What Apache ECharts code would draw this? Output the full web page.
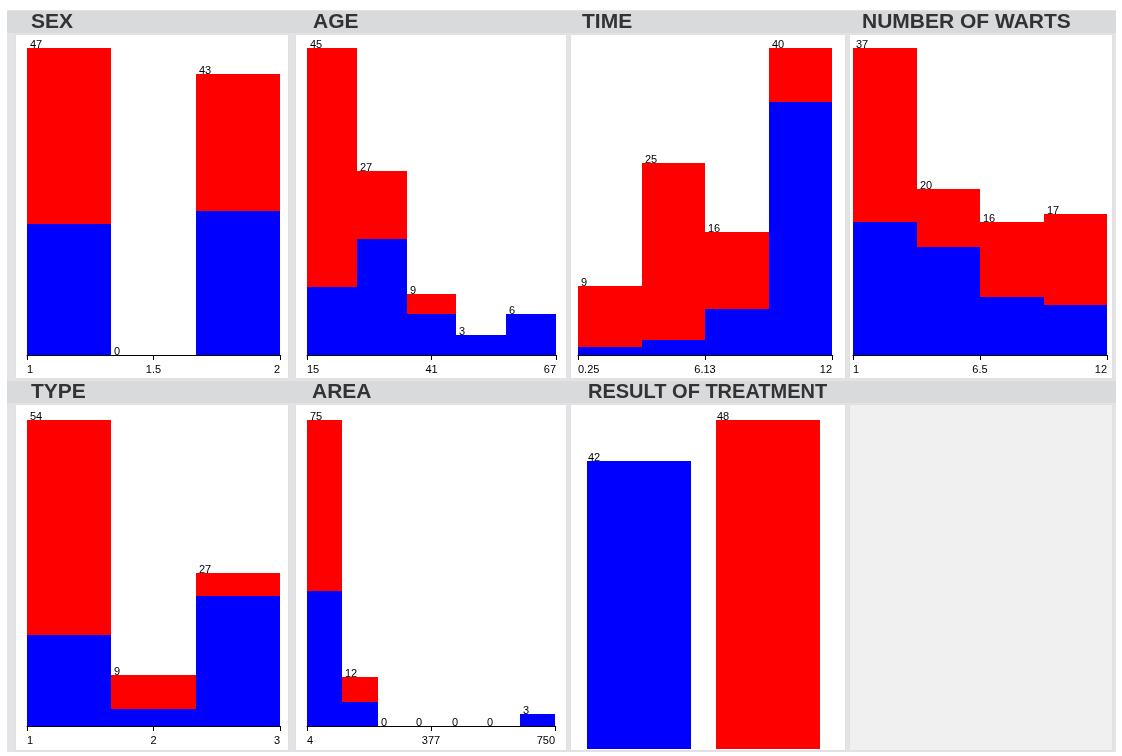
<!DOCTYPE html>
<html>
<head>
<meta charset="utf-8">
<script src="https://cdn.jsdelivr.net/npm/echarts@6/dist/echarts.min.js"></script>
<style>
  html, body { margin: 0; padding: 0; background: #ffffff; }
  #chart { width: 1122px; height: 756px; }
</style>
</head>
<body>
<div id="chart"></div>
<script>
// Attribute histograms of the warts data set; each bin is split by class
// (blue = class 0, red = class 1), with the bin total written above it.
const sexTicks = ['1', '1.5', '2'];
const sexBlue = [20, 0, 22];
const sexRed = [27, 0, 21];

const ageTicks = ['15', '41', '67'];
const ageBlue = [10, 17, 6, 3, 6];
const ageRed = [35, 10, 3, 0, 0];

const timeTicks = ['0.25', '6.13', '12'];
const timeBlue = [1, 2, 6, 33];
const timeRed = [8, 23, 10, 7];

const wartsTicks = ['1', '6.5', '12'];
const wartsBlue = [16, 13, 7, 6];
const wartsRed = [21, 7, 9, 11];

const typeTicks = ['1', '2', '3'];
const typeBlue = [16, 3, 23];
const typeRed = [38, 6, 4];

const areaTicks = ['4', '377', '750'];
const areaBlue = [33, 6, 0, 0, 0, 0, 3];
const areaRed = [42, 6, 0, 0, 0, 0, 0];

// class distribution of the target attribute
const resultCounts = [42, 48];

const FONT = '"Liberation Sans", Arial, Helvetica, sans-serif';
const BLUE = '#0000ff';
const RED = '#ff0000';

const ROW_TOP = [{ top: 48, height: 307 }, { top: 420, height: 306 }];

const histPanels = [
  { title: 'SEX', ticks: sexTicks, blue: sexBlue, red: sexRed, row: 0, left: 27, width: 253, titleX: 31 },
  { title: 'AGE', ticks: ageTicks, blue: ageBlue, red: ageRed, row: 0, left: 307, width: 249, titleX: 313 },
  { title: 'TIME', ticks: timeTicks, blue: timeBlue, red: timeRed, row: 0, left: 578, width: 254, titleX: 582 },
  { title: 'NUMBER OF WARTS', ticks: wartsTicks, blue: wartsBlue, red: wartsRed, row: 0, left: 853, width: 254, titleX: 862 },
  { title: 'TYPE', ticks: typeTicks, blue: typeBlue, red: typeRed, row: 1, left: 27, width: 253, titleX: 31 },
  { title: 'AREA', ticks: areaTicks, blue: areaBlue, red: areaRed, row: 1, left: 307, width: 248, titleX: 312 }
];

const grids = [], xAxes = [], yAxes = [], series = [], titles = [];

function countLabel(text, x, y) {
  return {
    type: 'text',
    style: {
      text: text, x: x, y: y,
      fill: '#000000',
      font: '11px ' + FONT,
      align: 'left',
      verticalAlign: 'bottom'
    }
  };
}

// pixel-snapped rectangle between two data points
function snapRect(p, q, fill) {
  const x0 = Math.round(Math.min(p[0], q[0])), x1 = Math.round(Math.max(p[0], q[0]));
  const y0 = Math.round(Math.min(p[1], q[1])), y1 = Math.round(Math.max(p[1], q[1]));
  return { type: 'rect', shape: { x: x0, y: y0, width: x1 - x0, height: y1 - y0 }, style: { fill: fill } };
}

histPanels.forEach(function (p, k) {
  const n = p.blue.length;
  const totals = p.blue.map(function (b, i) { return b + p.red[i]; });
  const maxTotal = Math.max.apply(null, totals);
  grids.push({ left: p.left, width: p.width, top: ROW_TOP[p.row].top, height: ROW_TOP[p.row].height });
  xAxes.push({
    gridIndex: k, type: 'value', min: 0, max: n, interval: n / 2, offset: 3,
    axisLine: { show: true, lineStyle: { color: '#000000', width: 1 } },
    axisTick: { show: true, length: 5, lineStyle: { color: '#000000' } },
    splitLine: { show: false },
    axisLabel: {
      show: true, margin: 6, color: '#000000', fontSize: 11, fontFamily: FONT,
      showMinLabel: true, showMaxLabel: true, hideOverlap: false,
      alignMinLabel: 'left', alignMaxLabel: 'right',
      formatter: function (v) { return p.ticks[Math.round(v / (n / 2))]; }
    }
  });
  yAxes.push({ gridIndex: k, type: 'value', min: 0, max: maxTotal, show: false, splitLine: { show: false } });
  series.push({
    type: 'custom', xAxisIndex: k, yAxisIndex: k, clip: false,
    data: p.blue.map(function (b, i) { return [i, b, p.red[i]]; }),
    renderItem: function (params, api) {
      const i = api.value(0), b = api.value(1), r = api.value(2);
      const base = api.coord([i, 0]);
      const mid = api.coord([i + 1, b]);
      const top = api.coord([i + 1, b + r]);
      const children = [];
      if (b > 0) children.push(snapRect(base, mid, BLUE));
      if (r > 0) children.push(snapRect([base[0], mid[1]], top, RED));
      children.push(countLabel(String(b + r), Math.round(base[0]) + 3, Math.round(top[1]) + 2));
      return { type: 'group', children: children };
    }
  });
  titles.push({
    text: p.title, left: p.titleX, top: p.row === 0 ? 12 : 382, padding: 0,
    textStyle: { fontSize: 21, fontWeight: 'bold', color: '#333333', fontFamily: FONT }
  });
});

// class panel: one bar per class, no axis
const rk = grids.length;
grids.push({ left: 574, width: 259, top: 420, height: 329 });
xAxes.push({ gridIndex: rk, type: 'value', min: 0, max: resultCounts.length, show: false });
yAxes.push({ gridIndex: rk, type: 'value', min: 0, max: Math.max.apply(null, resultCounts), show: false });
series.push({
  type: 'custom', xAxisIndex: rk, yAxisIndex: rk, clip: false,
  data: resultCounts.map(function (c, i) { return [i, c]; }),
  renderItem: function (params, api) {
    const i = api.value(0), c = api.value(1);
    const a = api.coord([i + 0.1, 0]);
    const b = api.coord([i + 0.9, c]);
    return {
      type: 'group',
      children: [
        snapRect(a, b, i === 0 ? BLUE : RED),
        countLabel(String(c), Math.round(a[0]) + 1, Math.round(b[1]) + 2)
      ]
    };
  }
});
titles.push({
  text: 'RESULT OF TREATMENT', left: 588, top: 382, padding: 0,
  textStyle: { fontSize: 20, fontWeight: 'bold', color: '#333333', fontFamily: FONT }
});

// window frame: grey backdrop, title strips and white plot cells
const cellX = [[15, 288], [295, 566], [570, 845], [849, 1112]];
const cellY = [[34, 378], [404, 750]];
const graphics = [
  { type: 'rect', shape: { x: 7, y: 10, width: 1109, height: 742 }, style: { fill: '#e3e3e5' }, z: -10 },
  { type: 'rect', shape: { x: 7, y: 11, width: 1109, height: 22 }, style: { fill: '#d9dadc' }, z: -9 },
  { type: 'rect', shape: { x: 7, y: 381, width: 1109, height: 22 }, style: { fill: '#d9dadc' }, z: -9 }
];
cellY.forEach(function (ys, r) {
  cellX.forEach(function (xs, c) {
    const empty = (r === 1 && c === 3);
    graphics.push({
      type: 'rect',
      shape: { x: xs[0] + 0.5, y: ys[0] + 0.5, width: xs[1] - xs[0], height: ys[1] - ys[0] },
      style: { fill: empty ? '#f0f0f0' : '#ffffff', stroke: '#e0e0e2', lineWidth: 1 },
      z: -8
    });
  });
});

const chart = echarts.init(document.getElementById('chart'));
chart.setOption({
  animation: false,
  backgroundColor: '#ffffff',
  title: titles,
  graphic: { elements: graphics },
  grid: grids,
  xAxis: xAxes,
  yAxis: yAxes,
  series: series
});
</script>
</body>
</html>
